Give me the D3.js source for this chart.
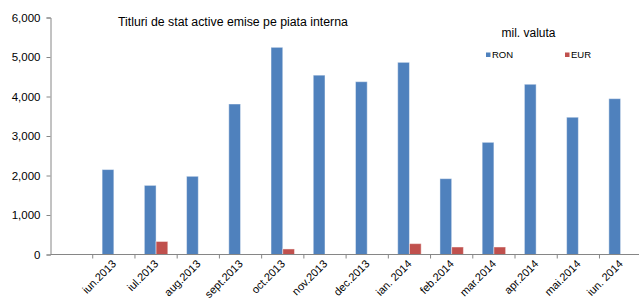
<!DOCTYPE html>
<html>
<head>
<meta charset="utf-8">
<script src="https://cdn.jsdelivr.net/npm/d3@7"></script>
<style>
	body { margin: 0; background: white; }
	svg { display: block; font-family: 'Liberation Sans', Arial, sans-serif; }
</style>
</head>
<body>
<script>
// categories (first slot is an empty month in the original)
var months = ['', 'iun.2013', 'iul.2013', 'aug.2013', 'sept.2013', 'oct.2013', 'nov.2013', 'dec.2013',
	'ian. 2014', 'feb.2014', 'mar.2014', 'apr.2014', 'mai.2014', 'iun. 2014'];
// series values, mil. valuta
var ron = [null, 2150, 1750, 1980, 3810, 5245, 4540, 4375, 4865, 1920, 2840, 4310, 3475, 3945];
var eur = [null, 0, 330, 0, 0, 140, 0, 0, 275, 190, 190, 0, 0, 0];
var series = ['RON', 'EUR'];
var yTicks = [0, 1000, 2000, 3000, 4000, 5000, 6000];

// plot area (note: "top" is reserved on window, so use p_ names)
var W = 639, H = 305,
	p_left = 50.5, p_right = 641.7, p_top = 17.5, p_bottom = 254.5,
	colors = { RON: '#4f81bd', EUR: '#c0504d' },
	axisColor = '#868686';

// build rows for drawing
var rows = months.map(function(m, i) {
	return { m: m, RON: ron[i], EUR: eur[i] };
});

var svg = d3.select('body').append('svg')
	.attr('width', W)
	.attr('height', H);

var y = d3.scaleLinear().domain([0, 6000]).range([p_bottom, p_top]);
var x0 = d3.scaleBand().domain(d3.range(months.length)).range([p_left, p_right]).padding(0);
var x1 = d3.scaleBand().domain(series).range([0, x0.bandwidth()]).paddingInner(0).paddingOuter(0.8);

// bars
rows.forEach(function(r, i) {
	series.forEach(function(s) {
		if (!r[s]) { return; }
		svg.append('rect')
			.attr('x', x0(i) + x1(s))
			.attr('y', y(r[s]))
			.attr('width', x1.bandwidth())
			.attr('height', p_bottom - y(r[s]))
			.attr('fill', colors[s])
			.attr('stroke', 'rgba(255,255,255,0.45)')
			.attr('stroke-width', 1);
	});
});

// y axis
var yAxis = svg.append('g')
	.attr('transform', 'translate(' + p_left + ',0)')
	.call(d3.axisLeft(y).tickValues(yTicks).tickSize(4).tickPadding(6).tickFormat(d3.format(',')));
yAxis.selectAll('path, line').attr('stroke', axisColor);
yAxis.selectAll('text')
	.attr('font-size', 11.5)
	.attr('fill', '#000')
	.attr('font-family', "'Liberation Sans', Arial, sans-serif");

// x axis, ticks at the band boundaries
var xAxis = svg.append('g')
	.attr('transform', 'translate(0,' + p_bottom + ')');
xAxis.append('line')
	.attr('x1', p_left).attr('x2', p_right)
	.attr('y1', 0).attr('y2', 0)
	.attr('stroke', axisColor);
d3.range(1, months.length).forEach(function(i) {
	xAxis.append('line')
		.attr('x1', x0(i)).attr('x2', x0(i))
		.attr('y1', 0).attr('y2', 4)
		.attr('stroke', axisColor);
});
months.forEach(function(m, i) {
	if (!m) { return; }
	var cx = x0(i) + x0.bandwidth() / 2 + 3;
	xAxis.append('text')
		.text(m)
		.attr('transform', 'translate(' + cx + ',10) rotate(-45)')
		.attr('text-anchor', 'end')
		.attr('font-size', 11)
		.attr('fill', '#000');
});

// title and unit
svg.append('text')
	.text('Titluri de stat active emise pe piata interna')
	.attr('x', 118)
	.attr('y', 26)
	.attr('font-size', 12.3)
	.attr('fill', '#000');
svg.append('text')
	.text('mil. valuta')
	.attr('x', 501.5)
	.attr('y', 37)
	.attr('font-size', 12)
	.attr('fill', '#000');

// legend
var legendX = { RON: 486, EUR: 565 };
series.forEach(function(s) {
	svg.append('rect')
		.attr('x', legendX[s])
		.attr('y', 52.5)
		.attr('width', 4.5)
		.attr('height', 4.5)
		.attr('fill', colors[s]);
	svg.append('text')
		.text(s)
		.attr('x', legendX[s] + 6)
		.attr('y', 58)
		.attr('font-size', 9.5)
		.attr('fill', '#000');
});
</script>
</body>
</html>
